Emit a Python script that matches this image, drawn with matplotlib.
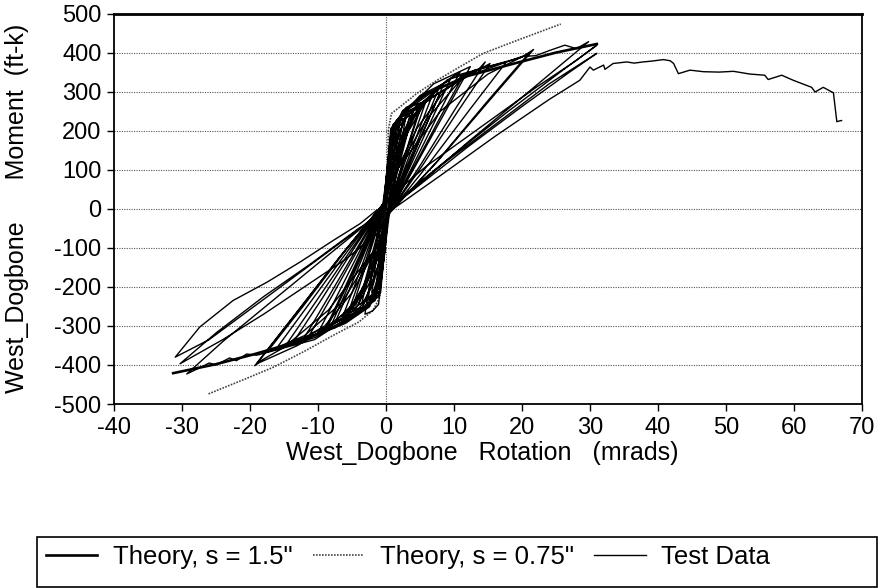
import matplotlib
matplotlib.use("Agg")
import matplotlib.pyplot as plt
from matplotlib.patches import Rectangle

plt.rcParams['font.family'] = ['Liberation Sans', 'DejaVu Sans']
plt.rcParams['axes.unicode_minus'] = False

# ---------------- data ----------------
x_ticks = [-40, -30, -20, -10, 0, 10, 20, 30, 40, 50, 60, 70]
y_ticks = [-500, -400, -300, -200, -100, 0, 100, 200, 300, 400, 500]

# Theory, s = 1.5"  (rotation mrad, moment ft-k)
theory_150_rot = [-31.3, -25, -19.5, -12, -6, -2.5, -1.2, -0.6, 0, 0.6, 1.2, 2.5, 6, 12, 19.5, 25, 31]
theory_150_mom = [-421, -398, -373, -335, -292, -250, -200, -100, 0, 100, 200, 250, 295, 340, 375, 400, 422]

# Theory, s = 0.75"
theory_075_rot = [-26.1, -21, -16.6, -12, -7.75, -4, -1.9, -0.9, -0.5, 0, 0.3, 0.34, 0.8, 2.06, 4.5, 7.5, 11, 14.3, 20, 25.7]
theory_075_mom = [-474, -438, -406, -365, -324, -290, -260, -226, -110, 0, 150, 201, 244, 261, 295, 329, 365, 398, 436, 473]

# Test data, read cycle group by cycle group as (rotation, moment)
test_small = [
    (0, 0), (0.3, 90), (0.7, 150), (1.2, 185), (1.5, 195), (1.0, 110), (0.5, 30), (0.1, -40), (-0.3, -110),
    (-0.8, -160), (-1.4, -190), (-1.0, -120), (-0.5, -40), (-0.1, 20),
    (0.2, 90), (0.6, 160), (1.3, 200), (2.0, 215), (1.4, 140), (0.7, 50), (0.1, -30), (-0.4, -120),
    (-1.0, -175), (-1.6, -205), (-2.1, -215), (-1.5, -140), (-0.8, -50), (-0.2, 30),
    (0.3, 120), (0.8, 185), (1.6, 215), (2.5, 230), (1.8, 150), (1.0, 60), (0.3, -20), (-0.3, -110),
    (-0.9, -185), (-1.8, -215), (-2.6, -230), (-1.9, -150), (-1.0, -50), (-0.3, 20),
    (0.2, 110), (0.7, 190), (1.8, 230), (3.0, 245), (2.1, 155), (1.2, 60), (0.4, -25), (-0.2, -110),
    (-0.8, -200), (-1.1, -245), (-2.0, -262), (-3.1, -270), (-2.2, -170), (-1.2, -60), (-0.4, 20),
    (0.2, 100), (0.6, 178), (2.0, 225), (3.5, 240), (2.5, 165), (1.2, 72), (0.3, -10), (-0.3, -100),
    (-0.8, -198), (-2.1, -228), (-3.5, -238), (-2.5, -160), (-1.2, -70), (-0.3, 15),
]
test_4_9 = [
    (0.2, 90), (0.9, 190), (2.3, 235), (4.0, 250), (2.8, 170), (1.4, 75), (0.3, -15),
    (-0.2, -90), (-1.0, -195), (-2.4, -232), (-4.0, -245), (-2.8, -167), (-1.4, -74), (-0.3, 15),
    (0.3, 80), (1.6, 185), (3.2, 240), (5.0, 262), (3.5, 178), (1.75, 79), (0.3, -15),
    (-0.3, -85), (-1.8, -190), (-3.3, -238), (-5.0, -258), (-3.5, -175), (-1.75, -77), (-0.3, 15),
    (0.2, 95), (0.8, 200), (2.5, 245), (4.2, 258), (4.6, 250), (5.3, 270), (3.7, 184), (1.85, 81), (0.3, -15),
    (-0.2, -100), (-0.9, -210), (-3.2, -250), (-5.6, -268), (-3.9, -182), (-2.0, -80), (-0.3, 15),
    (0.4, 70), (2.0, 175), (4.0, 250), (6.0, 282), (4.2, 192), (2.1, 85), (0.3, -15),
    (-0.4, -75), (-2.3, -185), (-4.4, -255), (-6.5, -282), (-4.5, -192), (-2.3, -85), (-0.3, 15),
    (0.2, 100), (0.7, 205), (3.0, 260), (6.5, 278), (7.0, 300), (4.9, 204), (2.45, 90), (0.3, -15),
    (-0.2, -105), (-0.8, -215), (-4.0, -265), (-7.5, -292), (-5.2, -199), (-2.6, -88), (-0.3, 15),
    (0.5, 80), (2.6, 190), (5.2, 270), (7.8, 310), (5.5, 211), (2.7, 93), (0.3, -15),
    (-0.5, -85), (-3.0, -200), (-5.8, -275), (-8.6, -303), (-6.0, -206), (-3.0, -91), (-0.3, 15),
    (0.3, 90), (1.4, 200), (4.5, 265), (8.0, 298), (5.6, 203), (2.8, 89), (0.3, -15),
    (-0.3, -95), (-1.5, -210), (-4.6, -265), (-8.0, -296), (-5.6, -201), (-2.8, -89), (-0.3, 15),
    (0.6, 75), (3.2, 195), (6.0, 280), (8.5, 320), (6.0, 218), (3.0, 96), (0.3, -15),
    (-0.6, -80), (-3.5, -205), (-6.4, -282), (-9.0, -310), (-6.3, -211), (-3.2, -93), (-0.3, 15),
    (0.2, 110), (1.0, 215), (5.0, 290), (9.4, 329), (6.6, 224), (3.3, 99), (0.3, -15),
    (-0.2, -115), (-1.1, -225), (-5.5, -285), (-10.0, -318), (-7.0, -216), (-3.5, -95), (-0.3, 15),
]
test_10_18 = [
    (0.5, 90), (3.5, 220), (7.5, 310), (10.9, 351), (7.6, 239), (3.8, 105), (0.3, -15),
    (-0.5, -95), (-3.8, -225), (-7.8, -295), (-11.2, -322), (-7.8, -219), (-3.9, -97), (-0.3, 15),
    (0.8, 70), (4.5, 205), (8.5, 300), (11.5, 345), (8.0, 235), (4.0, 104), (0.3, -15),
    (-0.8, -80), (-5.0, -215), (-9.0, -300), (-12.0, -330), (-8.4, -224), (-4.2, -99), (-0.3, 15),
    (0.3, 120), (1.5, 225), (7.0, 320), (12.4, 364), (8.7, 248), (4.3, 109), (0.3, -15),
    (-0.3, -125), (-1.6, -235), (-7.5, -305), (-13.5, -338), (-9.4, -230), (-4.7, -101), (-0.3, 15),
    (0.6, 100), (4.0, 240), (9.0, 330), (13.5, 355), (14.6, 376), (10.2, 256), (5.1, 113), (0.3, -15),
    (-0.6, -105), (-4.4, -245), (-10.0, -320), (-14.6, -346), (-10.2, -235), (-5.1, -104), (-0.3, 15),
    (1.0, 80), (6.0, 230), (11.0, 330), (15.3, 372), (10.7, 253), (5.4, 112), (0.3, -15),
    (-1.0, -85), (-6.5, -240), (-12.0, -325), (-16.0, -355), (-11.2, -241), (-5.6, -107), (-0.3, 15),
    (0.4, 130), (2.5, 245), (10.0, 340), (17.7, 376), (12.4, 256), (6.2, 113), (0.3, -15),
    (-0.4, -135), (-2.6, -250), (-10.5, -330), (-17.5, -367), (-12.2, -250), (-6.1, -110), (-0.3, 15),
]
test_20 = [
    (0.8, 110), (5.0, 265), (13.0, 355), (20.0, 388), (21.7, 408), (15.2, 277), (7.6, 122), (0.3, -15),
    (-0.8, -115), (-5.5, -270), (-13.0, -350), (-19.0, -397), (-13.3, -270), (-6.6, -119), (-0.3, 15),
    (1.2, 90), (8.0, 250), (15.0, 345), (21.0, 398), (14.7, 271), (7.4, 119), (0.3, -15),
    (-1.2, -95), (-8.5, -260), (-15.0, -355), (-18.5, -390), (-19.3, -402), (-13.5, -273), (-6.7, -121), (-0.3, 15),
]
test_30 = [
    (0.5, 110), (3.0, 245), (12.0, 340), (20.0, 390), (22.0, 392), (24.0, 405), (26.3, 419), (28.0, 410),
    (29.8, 428), (21.0, 300), (12.0, 170), (4.0, 50), (0.5, 0), (-0.6, -120), (-3.5, -255), (-10.5, -335),
    (-19.0, -375), (-20.5, -372), (-22.0, -389), (-23.0, -382), (-25.0, -400), (-26.0, -395), (-27.5, -408),
    (-29.3, -423), (-24.0, -340), (-17.0, -240), (-10.0, -140), (-4.0, -55), (-0.5, 0),
    (0.5, 30), (6.0, 110), (14.0, 210), (22.0, 310), (28.0, 380), (31.0, 419), (26.0, 355), (18.0, 250),
    (10.0, 140), (3.0, 40), (0.2, -10), (-1.4, -4), (-3.8, -38), (-7.75, -81), (-12.6, -136), (-17.5, -188),
    (-22.5, -235), (-27.4, -303), (-31.0, -380), (-26.0, -335), (-19.0, -245), (-12.0, -155), (-5.0, -65),
    (-0.5, -5),
    (0.3, 0), (8.0, 110), (16.0, 215), (24.0, 320), (31.0, 398), (27.0, 350), (20.0, 262), (12.0, 158),
    (5.0, 62), (0.5, 0), (-1.0, -60), (-6.0, -130), (-12.0, -200), (-18.0, -270), (-24.0, -335),
    (-30.3, -397), (-25.0, -318), (-18.0, -225), (-11.0, -140), (-4.0, -50), (0.1, -12),
]
test_tail = [
    (8.0, 85), (16.0, 185), (24.0, 280), (28.5, 329), (30.0, 363), (30.5, 355), (32.0, 368), (32.2, 357),
    (33.4, 372), (35.4, 376), (36.5, 373), (37.8, 376), (39.0, 378), (40.8, 382), (41.8, 379), (42.3, 372),
    (43.0, 346), (44.7, 355), (46.7, 351), (49.0, 350), (51.1, 352), (53.5, 345), (55.7, 342), (56.2, 331),
    (58.2, 342), (59.9, 329), (62.6, 311), (63.1, 299), (64.3, 311), (65.8, 297), (66.3, 223), (66.7, 225),
    (67.0, 226),
]

# ---------------- figure ----------------
fig = plt.figure(figsize=(8.88, 5.88), dpi=100)
ax = fig.add_axes([0.1284, 0.3129, 0.8423, 0.6641])

for yv in y_ticks[1:-1]:
    ax.axhline(yv, color='#555555', lw=0.8, linestyle=(0, (1, 1.2)), zorder=1)
ax.axvline(0, color='#555555', lw=0.8, linestyle=(0, (1, 1.2)), zorder=1)

test_pts = test_small + test_4_9 + test_10_18 + test_20 + test_30 + test_tail
test_rot = [p[0] for p in test_pts]
test_mom = [p[1] for p in test_pts]

l1, = ax.plot(theory_150_rot, theory_150_mom, color='black', lw=1.9, zorder=2)
l2, = ax.plot(theory_075_rot, theory_075_mom, color='#444444', lw=1.2, linestyle=(0, (1, 0.8)), zorder=3)
l3, = ax.plot(test_rot, test_mom, color='black', lw=1.0, zorder=4)

ax.set_xlim(-40, 70)
ax.set_ylim(-500, 500)
ax.set_xticks(x_ticks)
ax.set_yticks(y_ticks)
ax.tick_params(axis='both', labelsize=17, direction='out', length=5, width=1.0, pad=4, color='black')
for s in ax.spines.values():
    s.set_linewidth(1.3)
ax.spines['top'].set_linewidth(2.0)

fig.text(17 / 888, 1 - 208 / 588, 'West_Dogbone      Moment  (ft-k)', rotation=90,
         ha='center', va='center', fontsize=18)
fig.text(482 / 888, 1 - 453 / 588, 'West_Dogbone   Rotation   (mrads)',
         ha='center', va='center', fontsize=18)

# legend
fig.patches.append(Rectangle((37 / 888, 1 / 588), 840 / 888, 50 / 588, transform=fig.transFigure,
                             fill=False, edgecolor='black', lw=1.2))
fig.legend([l1, l2, l3], ['Theory, s = 1.5"', 'Theory, s = 0.75"', 'Test Data'],
           loc='center left', bbox_to_anchor=(46 / 888, 1 - 557 / 588), ncol=3, frameon=False,
           fontsize=18.5, handlelength=2.0, handletextpad=0.6, columnspacing=0.8,
           borderpad=0, borderaxespad=0)

fig.savefig('out.png', dpi=100)
